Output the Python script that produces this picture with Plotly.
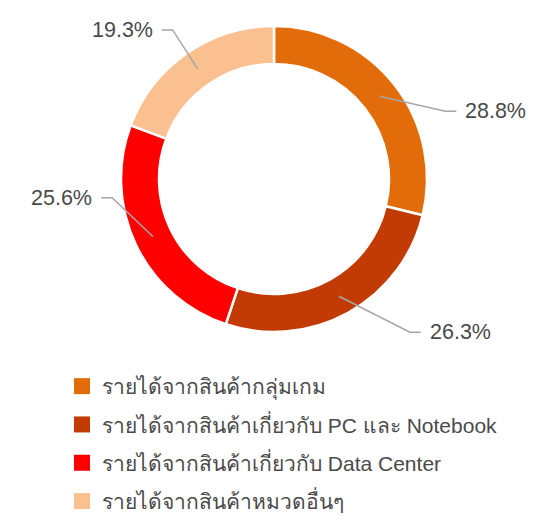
import math
import plotly.graph_objects as go

categories = [
    "รายได้จากสินค้ากลุ่มเกม",
    "รายได้จากสินค้าเกี่ยวกับ PC และ Notebook",
    "รายได้จากสินค้าเกี่ยวกับ Data Center",
    "รายได้จากสินค้าหมวดอื่นๆ",
]
values = [28.8, 26.3, 25.6, 19.3]
labels = ["28.8%", "26.3%", "25.6%", "19.3%"]
colors = ["#E36C0A", "#C23B05", "#FF0000", "#FAC090"]

W, H = 540, 516
CX, CY, R_OUT, R_IN = 274, 179, 153, 115
FONT = "Helvetica Neue, Liberation Sans, Arial, sans-serif"
TEXT_COLOR = "#4a4a4a"
LINE_COLOR = "#a6a6a6"

# callout layout: elbow offset from ring point, and side of text
callout = [
    {"elbow": (66, 15), "side": 1},
    {"elbow": (71, 36), "side": 1},
    {"elbow": (-41, -39), "side": -1},
    {"elbow": (-25, -39), "side": -1},
]

fig = go.Figure()
fig.add_trace(go.Pie(
    values=values, labels=categories, hole=R_IN / R_OUT, sort=False,
    direction="clockwise", rotation=0, textinfo="none", hoverinfo="label+percent",
    marker=dict(colors=colors, line=dict(color="white", width=2.5)),
    domain=dict(x=[(CX - R_OUT) / W, (CX + R_OUT) / W],
                y=[1 - (CY + R_OUT) / H, 1 - (CY - R_OUT) / H]),
    showlegend=False,
))

for i, (cat, col) in enumerate(zip(categories, colors)):
    fig.add_trace(go.Scatter(
        x=[None], y=[None], mode="markers", name=cat, legendgroup=f"g{i}",
        marker=dict(symbol="square", size=17, color=col),
    ))

shapes, annotations = [], []
total = sum(values)
cum = 0.0
r_mid = (R_OUT + R_IN) / 2
for v, lab, c in zip(values, labels, callout):
    mid = (cum + v / 2) / total * 2 * math.pi
    cum += v
    x0 = CX + r_mid * math.sin(mid)
    y0 = CY - r_mid * math.cos(mid)
    ex, ey = x0 + c["elbow"][0], y0 + c["elbow"][1]
    hx = ex + 11 * c["side"]
    shapes.append(dict(type="path", xref="x", yref="y",
                       path=f"M {x0},{y0} L {ex},{ey} L {hx},{ey}",
                       line=dict(color=LINE_COLOR, width=1.5)))
    annotations.append(dict(x=hx + 7 * c["side"], y=ey, xref="x", yref="y",
                            text=lab, showarrow=False,
                            xanchor="left" if c["side"] > 0 else "right",
                            yanchor="middle",
                            font=dict(size=21.5, color=TEXT_COLOR, family=FONT)))

fig.update_layout(
    width=W, height=H, margin=dict(l=0, r=0, t=0, b=0, autoexpand=False),
    paper_bgcolor="white", plot_bgcolor="white",
    xaxis=dict(visible=False, range=[0, W], domain=[0, 1], fixedrange=True),
    yaxis=dict(visible=False, range=[H, 0], domain=[0, 1], fixedrange=True),
    shapes=shapes, annotations=annotations,
    showlegend=True,
    legend=dict(x=62 / W, y=1 - 366 / H, xanchor="left", yanchor="top",
                font=dict(size=21, color=TEXT_COLOR, family=FONT),
                tracegroupgap=8, bgcolor="rgba(0,0,0,0)"),
)

fig.write_html("out.html", config={"displayModeBar": False},
               post_script="document.body.style.margin='0';")
